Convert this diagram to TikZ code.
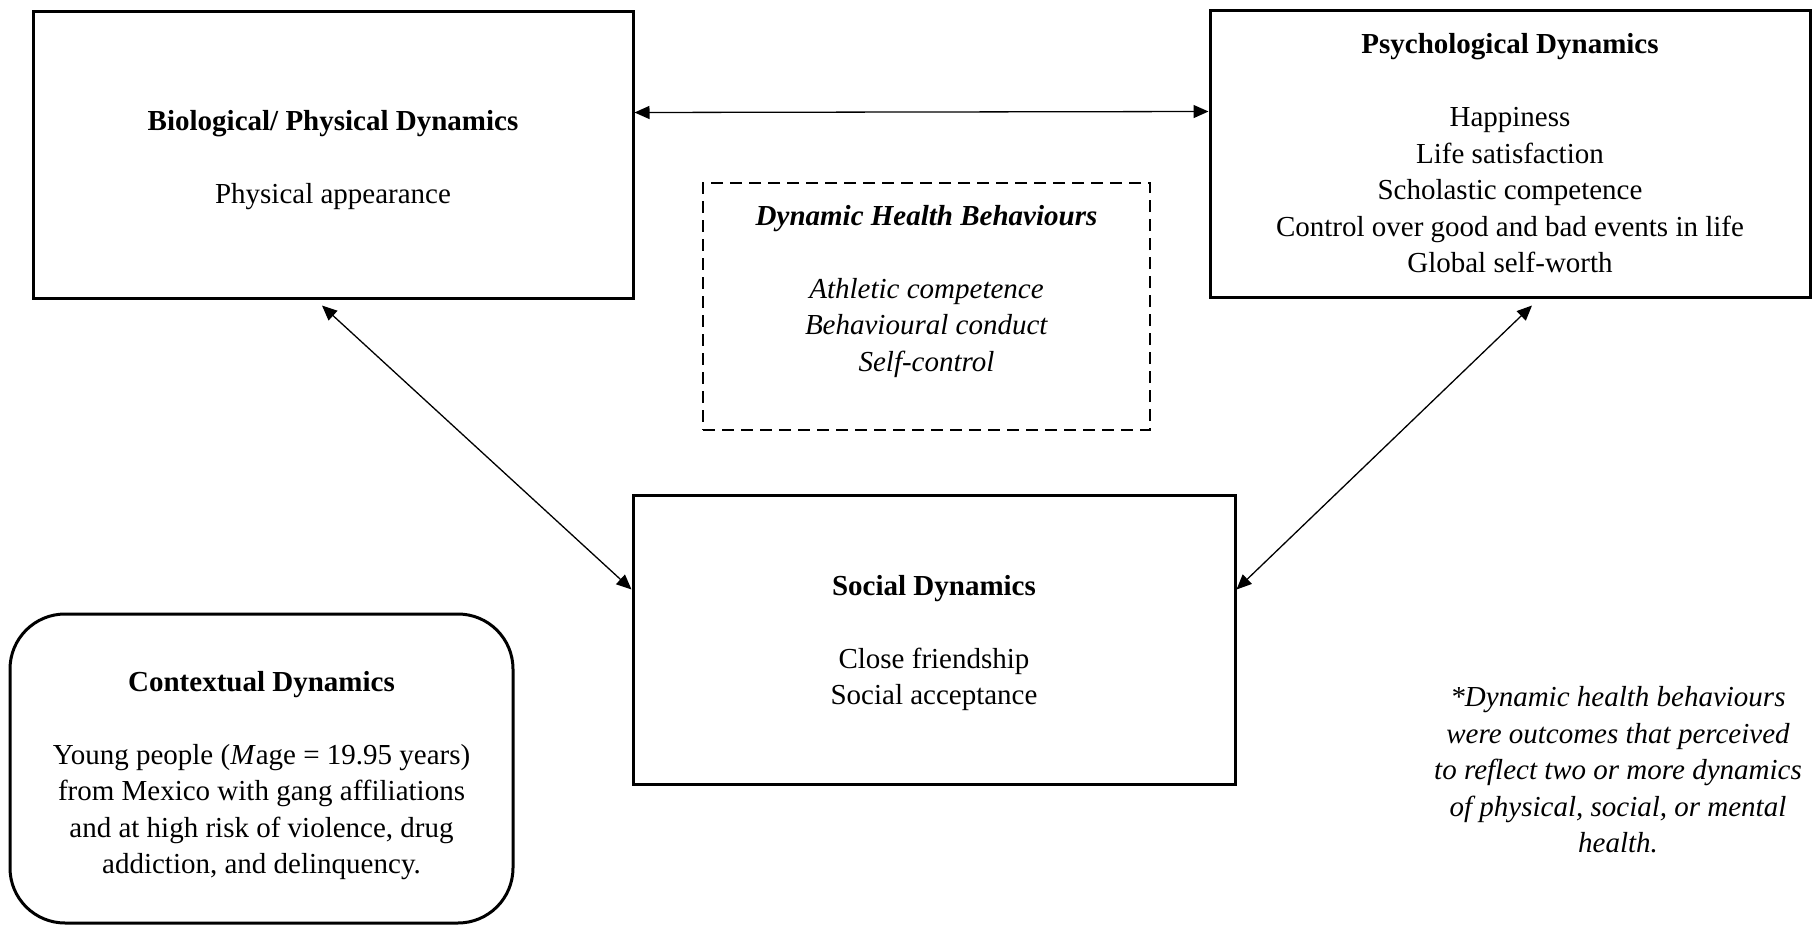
\documentclass[tikz,border=0pt]{standalone}
\usepackage{fontspec}
\setmainfont{Liberation Serif}
\usetikzlibrary{arrows.meta}

\begin{document}
\begin{tikzpicture}[x=1pt,y=-1pt,>={Triangle[length=15pt,width=13pt]},
        every node/.style={font=\fontsize{29}{36.5}\selectfont, align=center},
        box/.style={rectangle, draw, line width=3pt, inner sep=0pt},
        dashbox/.style={rectangle, draw, line width=2.5pt, dash pattern=on 12pt off 7pt, inner sep=0pt},
        roundbox/.style={rectangle, draw, line width=3pt, rounded corners=55pt, inner sep=0pt},
        link/.style={<->, line width=1.3pt}]

            \useasboundingbox (0,0) rectangle (1813,926);

            % Dynamics

            \node [box, minimum width=600pt, minimum height=287pt] (bio) at (333,154.5)
                {\mbox{}\\[-4.5pt] \textbf{Biological/ Physical Dynamics}\\[36.5pt] Physical appearance};
            \node [box, minimum width=600pt, minimum height=287pt] (psych) at (1510,153.5)
                {\textbf{Psychological Dynamics}\\[36.5pt] Happiness\\ Life satisfaction\\ Scholastic competence\\
                 Control over good and bad events in life\\ Global self-worth};
            \node [box, minimum width=602pt, minimum height=289pt] (social) at (934,639.5)
                {\mbox{}\\[-9.5pt] \textbf{Social Dynamics}\\[36.5pt] Close friendship\\ Social acceptance};
            \node [dashbox, minimum width=447pt, minimum height=247pt] (health) at (926.5,306.5)
                {\textbf{\textit{Dynamic Health Behaviours}}\\[36.5pt] \textit{Athletic competence}\\
                 \textit{Behavioural conduct}\\ \textit{Self-control}\\ \mbox{}};
            \node [roundbox, minimum width=503pt, minimum height=309pt] (context) at (261.5,768.5)
                {\mbox{}\\[-2.5pt] \textbf{Contextual Dynamics}\\[36.5pt] Young people (\textit{M}age = 19.95 years)\\
                 from Mexico with gang affiliations\\ and at high risk of violence, drug\\ addiction, and delinquency.};

            % Note

            \node (note) at (1618,770) {\textit{*Dynamic health behaviours}\\ \textit{were outcomes that perceived}\\
                 \textit{to reflect two or more dynamics}\\ \textit{of physical, social, or mental}\\ \textit{health.}};

            % Links

            \draw [link] ([yshift=42pt]bio.east) -- ([yshift=42pt]psych.west);
            \draw [link] ([xshift=-11pt,yshift=-6pt]bio.south) -- ([yshift=50pt]social.west);
            \draw [link] ([xshift=22pt,yshift=-7pt]psych.south) -- ([yshift=50pt]social.east);
        \end{tikzpicture}
\end{document}
